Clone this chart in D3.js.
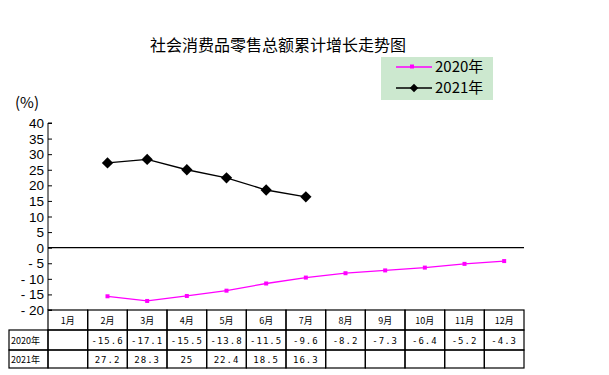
<!DOCTYPE html>
<html>
<head>
<meta charset="utf-8">
<script src="https://cdn.jsdelivr.net/npm/d3@7"></script>
<style>
  body { margin: 0; background: #fff; }
  svg { display: block; font-family: "Noto Sans CJK SC", "DejaVu Sans", sans-serif; }
</style>
</head>
<body>
<div id="chart"></div>
<script>
// Monthly categories and cumulative growth (%)
const months = ['1月', '2月', '3月', '4月', '5月', '6月', '7月', '8月', '9月', '10月', '11月', '12月'];
const values2020 = [null, -15.6, -17.1, -15.5, -13.8, -11.5, -9.6, -8.2, -7.3, -6.4, -5.2, -4.3];
const values2021 = [null, 27.2, 28.3, 25, 22.4, 18.5, 16.3, null, null, null, null, null];
const yTicks = [40, 35, 30, 25, 20, 15, 10, 5, 0, -5, -10, -15, -20];

const width = 609, height = 375;
const plotLeft = 48, plotRight = 524, plotTop = 123, plotBottom = 310;

const svg = d3.select('#chart').append('svg')
    .attr('width', width)
    .attr('height', height);

const x = d3.scaleBand().domain(months).range([plotLeft, plotRight]);
const y = d3.scaleLinear().domain([-20, 40]).range([plotBottom, plotTop]);

// Title
svg.append('text')
    .attr('x', 278).attr('y', 51)
    .attr('text-anchor', 'middle')
    .attr('font-size', '16px')
    .attr('fill', '#000')
    .text('社会消费品零售总额累计增长走势图');

// Unit label
svg.append('text')
    .attr('x', 15).attr('y', 108)
    .attr('font-size', '15px')
    .text('(%)');

// Y axis
const yAxis = d3.axisRight(y).tickValues(yTicks).tickSize(4).tickFormat('');
const yg = svg.append('g').attr('transform', `translate(${plotLeft},0)`).call(yAxis);
yg.select('.domain').attr('stroke', '#000').attr('d', `M4,${plotTop}H0V${plotBottom}H4`);
yg.selectAll('.tick line').attr('stroke', '#000');

svg.append('g').selectAll('text')
    .data(yTicks)
    .join('text')
    .attr('x', 44)
    .attr('y', d => y(d) + 5)
    .attr('text-anchor', 'end')
    .attr('font-family', '"Liberation Sans", Arial, sans-serif')
    .attr('font-size', '13.5px')
    .text(d => d < 0 ? '- ' + Math.abs(d) : d);

// Zero line
svg.append('line')
    .attr('x1', plotLeft).attr('x2', plotRight)
    .attr('y1', y(0)).attr('y2', y(0))
    .attr('stroke', '#000').attr('stroke-width', 1.2);

const cx = m => x(m) + x.bandwidth() / 2;

const line = d3.line()
    .defined(d => d.v !== null)
    .x(d => cx(d.m))
    .y(d => y(d.v));

const s2020 = months.map((m, i) => ({ m, v: values2020[i] }));
const s2021 = months.map((m, i) => ({ m, v: values2021[i] }));

// 2020 series
svg.append('path')
    .datum(s2020)
    .attr('d', line)
    .attr('fill', 'none')
    .attr('stroke', '#ff00ff')
    .attr('stroke-width', 1.3);

svg.append('g').selectAll('rect')
    .data(s2020.filter(d => d.v !== null))
    .join('rect')
    .attr('x', d => cx(d.m) - 2)
    .attr('y', d => y(d.v) - 2)
    .attr('width', 4).attr('height', 4)
    .attr('fill', '#ff00ff');

// 2021 series
svg.append('path')
    .datum(s2021)
    .attr('d', line)
    .attr('fill', 'none')
    .attr('stroke', '#000')
    .attr('stroke-width', 1.3);

const diamond = d3.symbol().type(d3.symbolSquare).size(64);
svg.append('g').selectAll('path')
    .data(s2021.filter(d => d.v !== null))
    .join('path')
    .attr('d', diamond)
    .attr('transform', d => `translate(${cx(d.m)},${y(d.v)}) rotate(45)`)
    .attr('fill', '#000');

// Legend
const legend = svg.append('g');
legend.append('rect')
    .attr('x', 381).attr('y', 57)
    .attr('width', 112).attr('height', 43)
    .attr('fill', '#cce8cf');
const legendItems = [
    { label: '2020年', color: '#ff00ff', marker: 'square', yy: 67 },
    { label: '2021年', color: '#000', marker: 'diamond', yy: 88 }
];
legendItems.forEach(it => {
    legend.append('line')
        .attr('x1', 396).attr('x2', 432)
        .attr('y1', it.yy).attr('y2', it.yy)
        .attr('stroke', it.color).attr('stroke-width', 1.3);
    if (it.marker === 'square') {
        legend.append('rect').attr('x', 410).attr('y', it.yy - 2.5)
            .attr('width', 4).attr('height', 4).attr('fill', it.color);
    } else {
        legend.append('path').attr('d', d3.symbol().type(d3.symbolSquare).size(36))
            .attr('transform', `translate(414,${it.yy}) rotate(45)`)
            .attr('fill', it.color);
    }
    legend.append('text')
        .attr('x', 435).attr('y', it.yy + 5)
        .attr('font-size', '15px')
        .text(it.label);
});

// Data table
const rowTops = [310, 330, 350, 368];
const tableLeft = 9;
const table = svg.append('g');

months.forEach(m => {
    table.append('rect')
        .attr('x', x(m)).attr('y', rowTops[0])
        .attr('width', x.bandwidth()).attr('height', rowTops[1] - rowTops[0])
        .attr('fill', 'none').attr('stroke', '#000').attr('stroke-width', 1.2);
    table.append('text')
        .attr('x', cx(m)).attr('y', (rowTops[0] + rowTops[1]) / 2 + 3.5)
        .attr('text-anchor', 'middle')
        .attr('font-size', '9px')
        .text(m);
});

const rows = [
    { label: '2020年', vals: values2020 },
    { label: '2021年', vals: values2021 }
];
rows.forEach((r, ri) => {
    const t = rowTops[ri + 1], b = rowTops[ri + 2];
    table.append('rect')
        .attr('x', tableLeft).attr('y', t)
        .attr('width', plotLeft - tableLeft).attr('height', b - t)
        .attr('fill', 'none').attr('stroke', '#000').attr('stroke-width', 1.2);
    table.append('text')
        .attr('x', tableLeft + 2).attr('y', (t + b) / 2 + 3.5)
        .attr('font-size', '9px')
        .text(r.label);
    months.forEach((m, i) => {
        table.append('rect')
            .attr('x', x(m)).attr('y', t)
            .attr('width', x.bandwidth()).attr('height', b - t)
            .attr('fill', 'none').attr('stroke', '#000').attr('stroke-width', 1.2);
        if (r.vals[i] !== null) {
            const v = r.vals[i];
            table.append('text')
                .attr('x', cx(m)).attr('y', (t + b) / 2 + 3.5)
                .attr('text-anchor', 'middle')
                .attr('font-family', '"DejaVu Sans Mono", monospace')
                .attr('font-size', '9px')
                .attr('letter-spacing', '1px')
                .text(v < 0 ? '-' + Math.abs(v) : String(v));
        }
    });
});
</script>
</body>
</html>
